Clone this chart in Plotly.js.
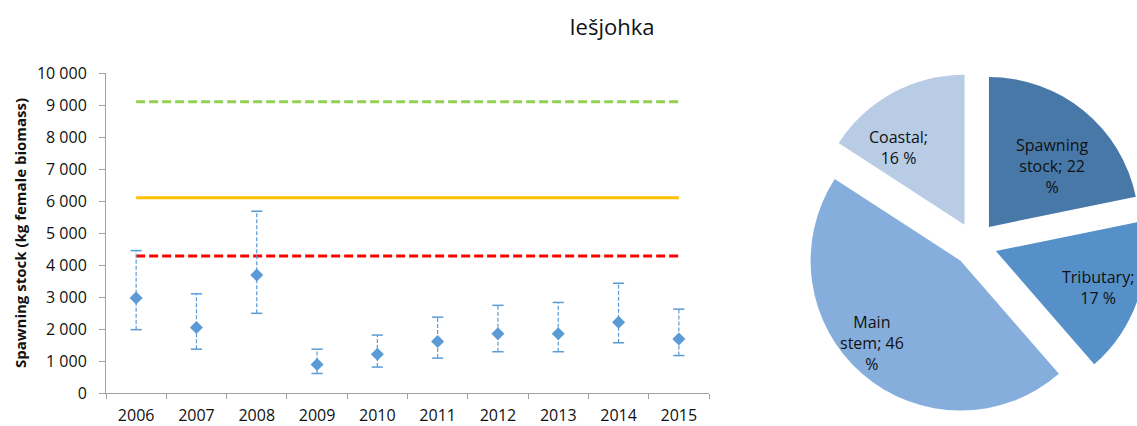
<!DOCTYPE html>
<html>
<head>
<meta charset="utf-8">
<script src="https://cdn.plot.ly/plotly-3.0.1.min.js"></script>
<style>
html,body{margin:0;padding:0;overflow:hidden;background:#fff;width:1137px;height:426px;}
#chart{width:1160px;height:426px;}
</style>
</head>
<body>
<div id="chart"></div>
<script>
// ---- data ----
const years = ["2006","2007","2008","2009","2010","2011","2012","2013","2014","2015"];
const stock = [2970, 2050, 3690, 890, 1210, 1610, 1850, 1850, 2210, 1690];
const upper = [4450, 3100, 5680, 1370, 1810, 2370, 2740, 2830, 3430, 2620];
const lower = [1980, 1370, 2490, 610, 810, 1090, 1290, 1290, 1570, 1170];
const refGreen = 9100;
const refOrange = 6100;
const refRed = 4280;

const pieLabels = ["Spawning stock", "Tributary", "Main stem", "Coastal"];
const pieValues = [22, 17, 46, 16];

// ---- build ----
const W = 1160, H = 426;
const blue = "#5b9bd5";

const errX = [], errY = [];
years.forEach((y, i) => { errX.push(y, y, null); errY.push(lower[i], upper[i], null); });

const lineX = [years[0], years[years.length - 1]];

// wrapped pie texts (line breaks as in the reference)
const pieBreaks = [["<br>", " ", "<br>"], ["", "<br>", " "], ["<br>", " ", "<br>"], ["", "<br>", " "]];
const pieText = pieLabels.map((l, i) => {
  const b = pieBreaks[i];
  const parts = l.split(" ");
  const name = parts.length > 1 ? parts[0] + b[0] + parts.slice(1).join(" ") : l;
  return name + ";" + b[1] + pieValues[i] + b[2] + "%";
});

// pie geometry (pixels in the layout)
const pieDom = {x: [803, 1147], y: [72, 416]};   // left,right / top,bottom in px
const pull = 0.147;
const pcx = (pieDom.x[0] + pieDom.x[1]) / 2, pcy = (pieDom.y[0] + pieDom.y[1]) / 2;
const pr = (pieDom.x[1] - pieDom.x[0]) / 2 / (1 + pull);
// label placement style (Excel best-fit look)
const labelDist = [0.59, 0.72, 0.81, 0.68];
const labelAngleNudge = [7, 1, 6, -12];

const total = pieValues.reduce((a, b) => a + b, 0);
let cum = 0;
const annotations = pieValues.map((v, i) => {
  const a0 = cum / total * 360; cum += v; const a1 = cum / total * 360;
  const mid = (a0 + a1) / 2;
  const rad = mid * Math.PI / 180;
  const ox = pcx + pull * pr * Math.sin(rad), oy = pcy - pull * pr * Math.cos(rad);
  const lr = (mid + labelAngleNudge[i]) * Math.PI / 180;
  const px = ox + labelDist[i] * pr * Math.sin(lr), py = oy - labelDist[i] * pr * Math.cos(lr);
  return {text: pieText[i], x: px / W, y: 1 - py / H, xref: "paper", yref: "paper",
          xanchor: "center", yanchor: "middle", showarrow: false, align: "center",
          font: {family: "Open Sans", size: 16, color: "#111"}};
});

const traces = [
  {x: lineX, y: [refGreen, refGreen], mode: "lines", line: {color: "#92d050", width: 3, dash: "9px,4px"}, hoverinfo: "skip", showlegend: false},
  {x: lineX, y: [refOrange, refOrange], mode: "lines", line: {color: "#ffc000", width: 3}, hoverinfo: "skip", showlegend: false},
  {x: lineX, y: [refRed, refRed], mode: "lines", line: {color: "#ff0000", width: 3, dash: "9px,4px"}, hoverinfo: "skip", showlegend: false},
  {x: errX, y: errY, mode: "lines", connectgaps: false, line: {color: blue, width: 1.2, dash: "4px,2px"}, hoverinfo: "skip", showlegend: false},
  {x: years.concat(years), y: upper.concat(lower), mode: "markers", marker: {symbol: "line-ew", size: 8, color: blue, line: {color: blue, width: 1.5}}, hoverinfo: "skip", showlegend: false},
  {x: years, y: stock, mode: "markers", marker: {symbol: "diamond", size: 10, color: blue}, showlegend: false},
  {
    type: "pie", labels: pieLabels, values: pieValues,
    textinfo: "none",
    sort: false, direction: "clockwise", rotation: 0,
    pull: pieValues.map(() => pull),
    marker: {colors: ["#4878a8", "#5590c8", "#86aedc", "#b8cce6"], line: {width: 0}},
    domain: {x: [pieDom.x[0] / W, pieDom.x[1] / W], y: [1 - pieDom.y[1] / H, 1 - pieDom.y[0] / H]},
    showlegend: false
  }
];

const layout = {
  width: W, height: H, autosize: false,
  margin: {l: 0, r: 0, t: 0, b: 0},
  paper_bgcolor: "#fff", plot_bgcolor: "#fff",
  separators: ", ",
  font: {family: "Open Sans", size: 16, color: "#111"},
  title: {text: "Iešjohka", font: {family: "Open Sans", size: 22, color: "#111"},
          xref: "container", x: 612 / W, xanchor: "center", yref: "container", y: 1 - 27 / H, yanchor: "middle"},
  annotations: annotations,
  xaxis: {
    type: "category", categoryorder: "array", categoryarray: years,
    domain: [106 / W, 709 / W], range: [-0.5, 9.5],
    tickson: "boundaries", ticks: "outside", ticklen: 5, tickcolor: "#a0a0a0",
    ticklabelstandoff: 8,
    showline: true, linecolor: "#a0a0a0", linewidth: 1, showgrid: false, zeroline: false,
    tickfont: {family: "Open Sans", size: 16, color: "#111"}
  },
  yaxis: {
    domain: [33 / H, 353 / H], range: [0, 10000], dtick: 1000, tick0: 0,
    tickformat: ",d", separatethousands: true, ticks: "outside", ticklen: 6, tickcolor: "#a0a0a0",
    ticklabelstandoff: 9,
    showline: true, linecolor: "#a0a0a0", linewidth: 1, showgrid: false, zeroline: false,
    tickfont: {family: "Open Sans", size: 16, color: "#111"},
    title: {text: "<b>Spawning stock (kg female biomass)</b>", font: {family: "Open Sans", size: 15, color: "#111"}, standoff: 6}
  }
};

Plotly.newPlot("chart", traces, layout, {displayModeBar: false, staticPlot: true});
</script>
</body>
</html>
